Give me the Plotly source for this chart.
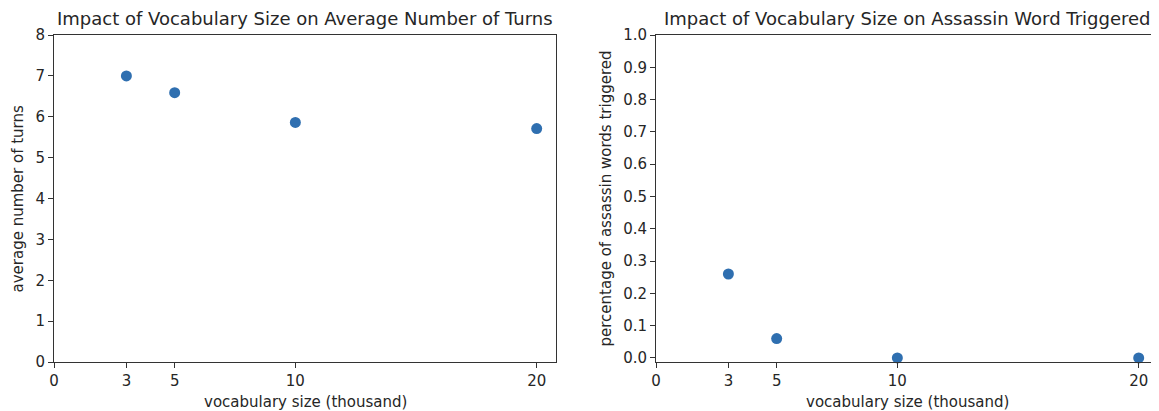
import plotly.graph_objects as go

vocab_sizes = [3, 5, 10, 20]
avg_turns = [7.0, 6.59, 5.86, 5.71]
assassin_pct = [0.26, 0.06, 0.0, 0.0]

x_ticks = [0, 3, 5, 10, 20]
plot_titles = ["Impact of Vocabulary Size on Average Number of Turns",
               "Impact of Vocabulary Size on Assassin Word Triggered"]
x_title = "vocabulary size (thousand)"
y_titles = ["average number of turns", "percentage of assassin words triggered"]

FONT = "DejaVu Sans"
TXT = "#262626"
MARK = "#2f6fb0"
OFF = 8  # default page body margin
W, H = 1159 - OFF, 411 - OFF


def px(x):
    return (x - OFF) / W


def py(y):
    return 1 - (y - OFF) / H


xd1 = [px(54), px(556)]
xd2 = [px(656), px(1158)]
yd = [py(362), py(35)]

fig = go.Figure()
fig.add_trace(go.Scatter(x=vocab_sizes, y=avg_turns, mode="markers",
                         marker=dict(size=11, color=MARK), xaxis="x", yaxis="y"))
fig.add_trace(go.Scatter(x=vocab_sizes, y=assassin_pct, mode="markers",
                         marker=dict(size=11, color=MARK), xaxis="x2", yaxis="y2",
                         cliponaxis=False))


def ax(**kw):
    d = dict(showgrid=False, zeroline=False, showline=True, mirror=True,
             linecolor="#333", linewidth=1, ticks="outside", ticklen=5,
             tickcolor="#333", automargin=False,
             tickfont=dict(family=FONT, size=15, color=TXT))
    d.update(kw)
    return d


fig.update_layout(
    width=W, height=H,
    margin=dict(l=0, r=0, t=0, b=0, autoexpand=False),
    paper_bgcolor="white", plot_bgcolor="white",
    showlegend=False,
    font=dict(family=FONT, color=TXT),
    xaxis=ax(domain=xd1, range=[0, 20.8], tickvals=x_ticks,
             ticktext=[str(v) for v in x_ticks], anchor="y"),
    yaxis=ax(domain=yd, range=[0, 8], tickvals=list(range(0, 9)), anchor="x"),
    xaxis2=ax(domain=xd2, range=[0, 20.8], tickvals=x_ticks,
              ticktext=[str(v) for v in x_ticks], anchor="y2"),
    yaxis2=ax(domain=yd, range=[-0.0125, 1.0],
              tickvals=[i / 10 for i in range(11)], tickformat=".1f", anchor="x2"),
)

for i, xd in enumerate([xd1, xd2]):
    cx = (xd[0] + xd[1]) / 2
    fig.add_annotation(text=plot_titles[i], x=cx, y=py(18), xref="paper", yref="paper",
                       showarrow=False, xanchor="center", yanchor="middle",
                       font=dict(family=FONT, size=18, color=TXT))
    fig.add_annotation(text=x_title, x=cx, y=py(402), xref="paper", yref="paper",
                       showarrow=False, xanchor="center", yanchor="middle",
                       font=dict(family=FONT, size=15, color=TXT))

for i, xp in enumerate([18, 606]):
    fig.add_annotation(text=y_titles[i], x=px(xp), y=(yd[0] + yd[1]) / 2,
                       xref="paper", yref="paper", showarrow=False, textangle=-90,
                       xanchor="center", yanchor="middle",
                       font=dict(family=FONT, size=15, color=TXT))

fig.write_html("out.html")
